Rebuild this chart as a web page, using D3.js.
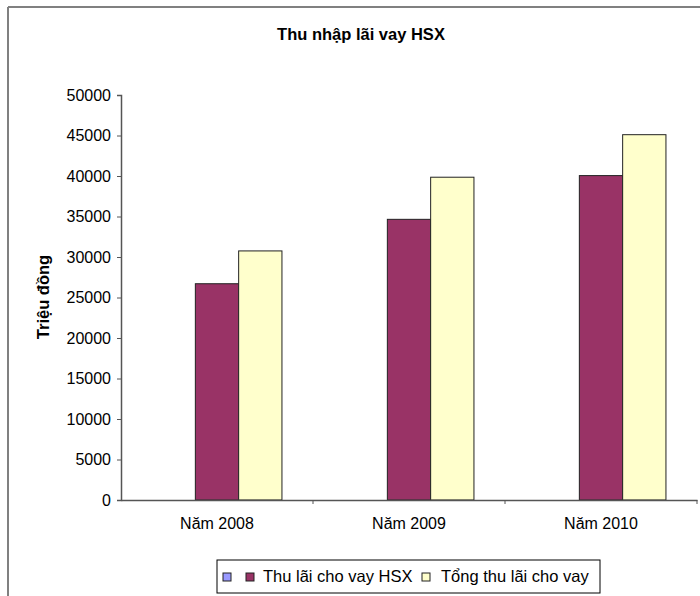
<!DOCTYPE html>
<html><head><meta charset="utf-8">
<script src="https://cdn.jsdelivr.net/npm/d3@7"></script>
<style>
body{margin:0;background:#fff;}
svg text{font-family:"Liberation Sans",Arial,sans-serif;fill:#000;}
</style></head>
<body><svg id="chart" width="700" height="596"></svg>
<script>
const title = "Thu nhập lãi vay HSX";
const yTitle = "Triệu đồng";
const categories = ["Năm 2008","Năm 2009","Năm 2010"];
const seriesNames = ["", "Thu lãi cho vay HSX", "Tổng thu lãi cho vay"];
const seriesBlank = [0, 0, 0];
const seriesHSX = [26700, 34650, 40050];
const seriesTotal = [30750, 39850, 45100];
const seriesColors = ["#9999FF", "#993366", "#FFFFCC"];
const yTicks = [0,5000,10000,15000,20000,25000,30000,35000,40000,45000,50000];

const seriesValues = [seriesBlank, seriesHSX, seriesTotal];
const svg = d3.select("#chart");

// outer frame (top and left edges visible)
svg.append("line").attr("x1",8).attr("x2",700).attr("y1",7).attr("y2",7).attr("stroke","#808080").attr("stroke-width",2);
svg.append("line").attr("x1",8).attr("x2",8).attr("y1",7).attr("y2",596).attr("stroke","#808080").attr("stroke-width",2);

const x0 = d3.scaleBand().domain(categories).range([121, 697]).paddingInner(0).paddingOuter(0);
const x1 = d3.scaleBand().domain(d3.range(seriesNames.length)).range([0, x0.bandwidth()]).paddingInner(0).paddingOuter(0.717);
const y = d3.scaleLinear().domain([0, 50000]).range([500, 95]);

// bars
categories.forEach((c, ci) => {
  const g = svg.append("g").attr("transform", `translate(${x0(c)},0)`);
  seriesValues.forEach((vals, si) => {
    const v = vals[ci];
    if (v <= 0) return;
    g.append("rect")
      .attr("x", x1(si)).attr("y", y(v))
      .attr("width", x1.bandwidth()).attr("height", y(0) - y(v))
      .attr("fill", seriesColors[si]).attr("stroke", "#222").attr("stroke-width", 1);
  });
});

// y axis
const yAxis = d3.axisLeft(y).tickValues(yTicks).tickSize(4).tickPadding(6).tickFormat(d3.format("d"));
const gy = svg.append("g").attr("transform","translate(121,0)").call(yAxis);
gy.select(".domain").attr("stroke","#555").attr("stroke-width",1.5);
gy.selectAll(".tick line").attr("stroke","#555");
gy.selectAll("text").attr("font-size","16px").attr("fill","#111").style("font-family","Liberation Sans, Arial, sans-serif");

// x axis
const xAxis = d3.axisBottom(x0).tickSize(0).tickPadding(18);
const gx = svg.append("g").attr("transform","translate(0,500)").call(xAxis);
gx.select(".domain").attr("stroke","#555").attr("stroke-width",1.5);
gx.selectAll("text").attr("font-size","16px").attr("fill","#111").style("font-family","Liberation Sans, Arial, sans-serif");
// category boundary ticks
const bounds = categories.map(c => x0(c) + x0.bandwidth());
gx.selectAll(".bound").data(bounds).enter().append("line")
  .attr("x1", d=>d).attr("x2", d=>d).attr("y1",0).attr("y2",4).attr("stroke","#555");

// title
svg.append("text").attr("x", 361).attr("y", 40).attr("text-anchor","middle")
  .attr("font-size","16.5px").attr("font-weight","bold").text(title);

// y title
svg.append("text").attr("transform","translate(49,297) rotate(-90)").attr("text-anchor","middle")
  .attr("font-size","16.5px").attr("font-weight","bold").text(yTitle);

// legend
const lg = svg.append("g");
lg.append("rect").attr("x",217).attr("y",560).attr("width",383).attr("height",33)
  .attr("fill","#fff").attr("stroke","#000").attr("stroke-width",1);
const legendItems = [
  {sx:223, tx:null},
  {sx:246, tx:263},
  {sx:422, tx:441}
];
legendItems.forEach((it, i) => {
  lg.append("rect").attr("x", it.sx).attr("y", 573).attr("width", 8).attr("height", 8)
    .attr("fill", seriesColors[i]).attr("stroke","#222").attr("stroke-width",1);
  if (seriesNames[i]) {
    lg.append("text").attr("x", it.tx).attr("y", 582).attr("font-size","16.5px").text(seriesNames[i]);
  }
});
</script></body></html>
